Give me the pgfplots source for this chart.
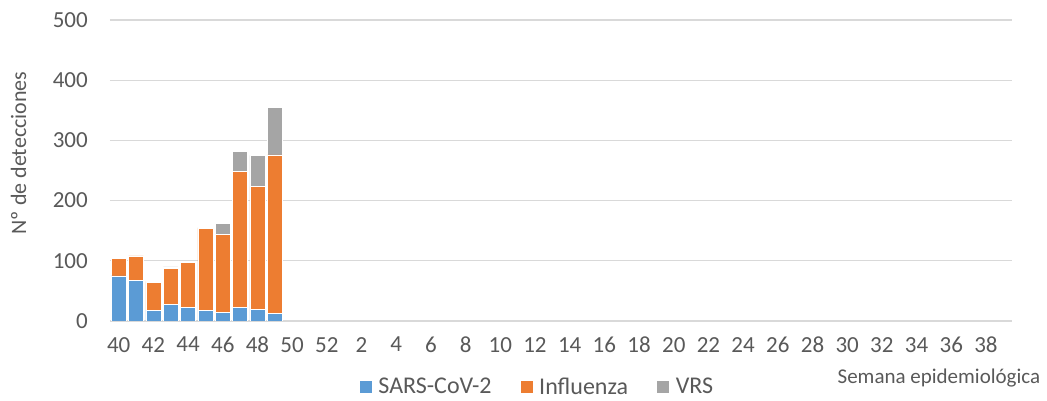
\documentclass[border=0pt]{standalone}
\usepackage{fontspec}
\setmainfont{Carlito}
\usepackage{pgfplots}
\pgfplotsset{compat=1.18}
\definecolor{cblue}{HTML}{5B9BD5}
\definecolor{corange}{HTML}{ED7D31}
\definecolor{cgray}{HTML}{A5A5A5}
\definecolor{ctext}{HTML}{595959}
\definecolor{cgrid}{HTML}{D9D9D9}
\begin{document}
\begin{tikzpicture}[x=1pt,y=1pt]
\useasboundingbox (-110,-80) rectangle (937,321);
\begin{axis}[at={(0,0)}, anchor=south west, scale only axis,
  width=902pt, height=301pt,
  ybar stacked, bar width=0.86,
  xmin=-0.5, xmax=51.5, ymin=0, ymax=500,
  ytick={0,100,...,500},
  xtick={0,2,...,50},
  xticklabels={40,42,44,46,48,50,52,2,4,6,8,10,12,14,16,18,20,22,24,26,28,30,32,34,36,38},
  axis line style={draw=none},
  major tick length=0pt,
  ymajorgrids, grid style={cgrid, line width=1.2pt},
  /pgf/number format/assume math mode=true,
  tick label style={font=\fontsize{23}{27}\selectfont, text=ctext, inner sep=0pt},
  yticklabel style={anchor=east, xshift=-22pt},
  xticklabel style={anchor=north, yshift=-16pt},
  xlabel={Semana epidemiológica},
  xlabel style={at={(axis description cs:0.919,-0.19)}, anchor=center, font=\fontsize{21}{25}\selectfont, text=ctext},
  ylabel={Nº de detecciones},
  ylabel style={at={(axis description cs:-0.1014,0.558)}, anchor=center, font=\fontsize{22}{26}\selectfont, text=ctext},
  legend style={at={(axis description cs:0.459,-0.219)}, anchor=center, draw=none, fill=none,
    font=\fontsize{24}{28}\selectfont, text=ctext},
  legend columns=3,
  legend image code/.code={\path (-26pt,0pt) (17pt,0pt); \fill[#1] (0pt,-6.5pt) rectangle (13pt,6.5pt);},
]
\addplot[fill=cblue, draw=white, line width=0.6pt] coordinates {(0,75) (1,68) (2,18) (3,28) (4,22) (5,18) (6,14) (7,23) (8,19) (9,13)};
\addplot[fill=corange, draw=white, line width=0.6pt] coordinates {(0,29) (1,40) (2,46) (3,59) (4,75) (5,136) (6,130) (7,225) (8,204) (9,263)};
\addplot[fill=cgray, draw=white, line width=0.6pt] coordinates {(0,0) (1,0) (2,2) (3,3) (4,1) (5,1) (6,18) (7,34) (8,52) (9,79)};
\legend{SARS-CoV-2, Influenza, VRS}
\end{axis}
\end{tikzpicture}
\end{document}
